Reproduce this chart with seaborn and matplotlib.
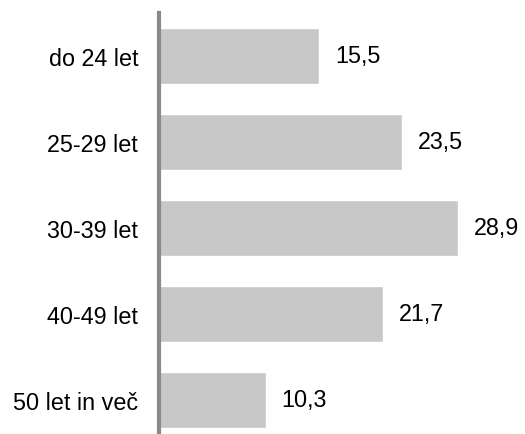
import matplotlib
matplotlib.use("Agg")
import matplotlib.pyplot as plt
import seaborn as sns
import pandas as pd

# data
categories = ["do 24 let", "25-29 let", "30-39 let", "40-49 let", "50 let in več"]
values = [15.5, 23.5, 28.9, 21.7, 10.3]
value_labels = ["15,5", "23,5", "28,9", "21,7", "10,3"]

df = pd.DataFrame({"group": categories, "share": values})

sns.set_style("white")
plt.rcParams["font.family"] = ["Liberation Sans", "DejaVu Sans"]

fig = plt.figure(figsize=(5.25, 4.35), dpi=100)
ax = fig.add_axes([159 / 525, -9 / 435, 362 / 525, 430 / 435])

sns.barplot(data=df, x="share", y="group", color="#c8c8c8", width=0.66,
            saturation=1, ax=ax)

for i, lab in enumerate(value_labels):
    ax.text(values[i] + 1.5, i, lab, va="center", ha="left", fontsize=16.8, color="black")

ax.set_xlim(0, 35)
ax.set_ylim(4.5, -0.5)
ax.set_xlabel("")
ax.set_ylabel("")
ax.set_xticks([])
ax.tick_params(axis="y", length=0, pad=15, labelsize=16.8, labelcolor="black")
for side in ["top", "right", "bottom"]:
    ax.spines[side].set_visible(False)
ax.spines["left"].set_color("#8a8a8a")
ax.spines["left"].set_linewidth(3)

fig.savefig("out.png", dpi=100)
